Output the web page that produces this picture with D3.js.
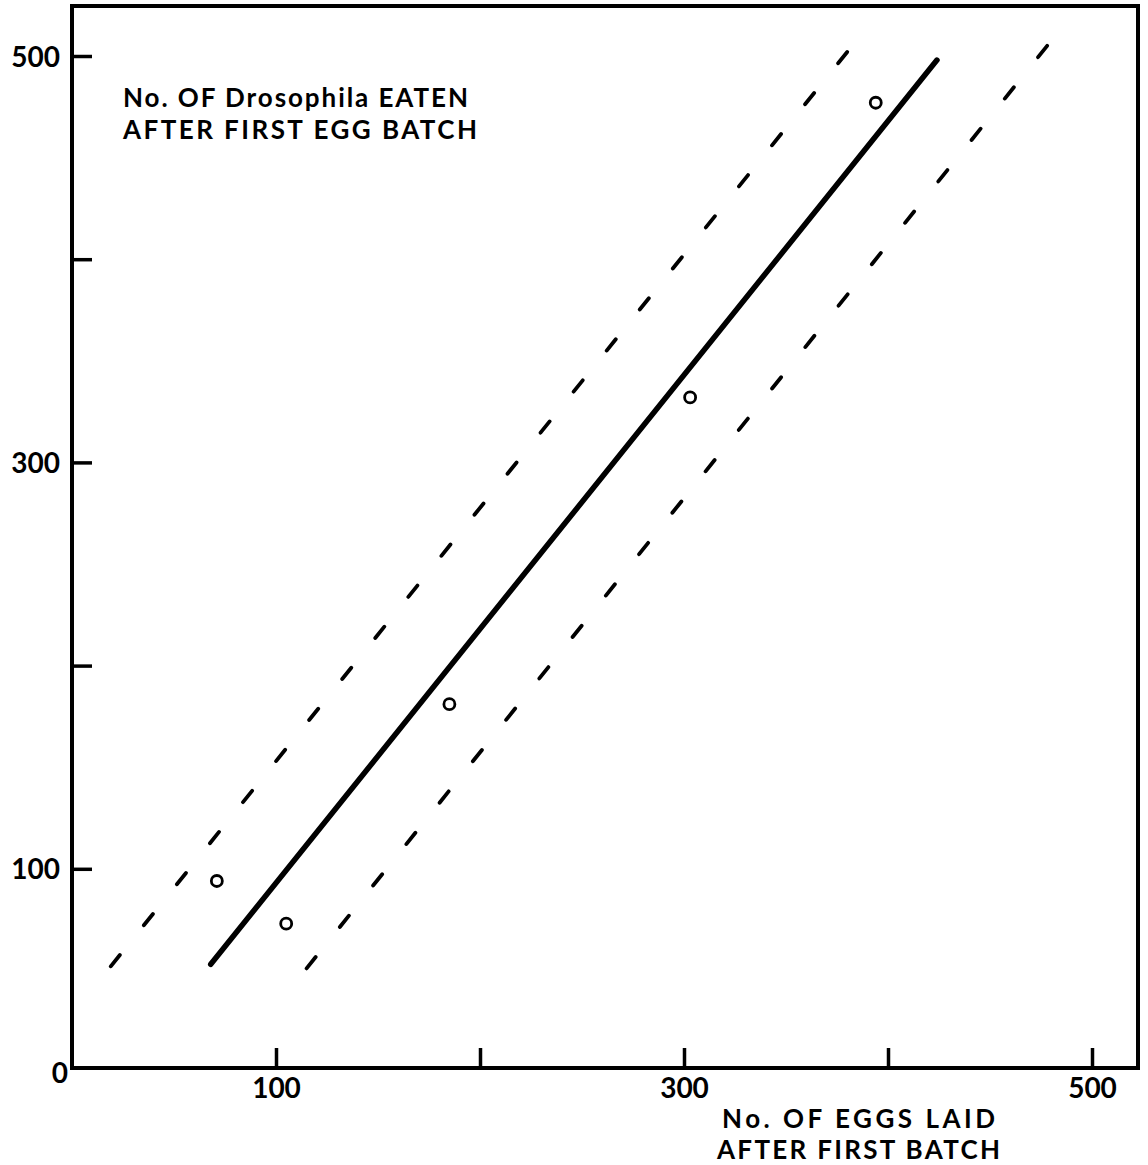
<!DOCTYPE html>
<html>
<head>
<meta charset="utf-8">
<script src="https://cdn.jsdelivr.net/npm/d3@7"></script>
<style>
  html, body { margin: 0; padding: 0; background: #fff; }
  svg { display: block; }
  text { font-family: Lato, "Open Sans", sans-serif; font-weight: 700; fill: #000; }
</style>
</head>
<body>
<svg id="chart" width="1148" height="1165"></svg>
<script>
// ---- data ----
const eggsLaid   = [71, 105, 185, 303, 394];   // x: No. of eggs laid after first batch
const flyEaten   = [94, 73, 181, 332, 477];    // y: No. of Drosophila eaten after first egg batch
const fitLine    = [[68, 53], [424, 498]];     // solid regression line
const upperLimit = [[19, 52], [380, 502]];     // dashed upper limit
const lowerLimit = [[115, 51], [478, 505]];    // dashed lower limit
const xTicks = [100, 200, 300, 400, 500];
const yTicks = [100, 200, 300, 400, 500];
const xTickLabels = [100, 300, 500];
const yTickLabels = [100, 300, 500];
const yTitle = ["No. OF Drosophila EATEN", "AFTER FIRST EGG BATCH"];
const xTitle = ["No. OF  EGGS  LAID", "AFTER  FIRST  BATCH"];

const svg = d3.select("#chart");
const x = d3.scaleLinear().domain([0, 500]).range([72, 1092]);
const y = d3.scaleLinear().domain([0, 500]).range([1072, 56]);

const frame = { left: 72, top: 6, right: 1138, bottom: 1068 };

// frame
svg.append("rect")
  .attr("x", frame.left).attr("y", frame.top)
  .attr("width", frame.right - frame.left).attr("height", frame.bottom - frame.top)
  .attr("fill", "none").attr("stroke", "#000").attr("stroke-width", 4);

// y axis
const yAxis = svg.append("g").attr("transform", `translate(${frame.left},0)`)
  .call(d3.axisLeft(y).tickValues(yTicks).tickSizeInner(-20).tickSizeOuter(0).tickPadding(12)
    .tickFormat(d => yTickLabels.includes(d) ? d : ""));
yAxis.select(".domain").remove();
yAxis.selectAll(".tick line").attr("stroke", "#000").attr("stroke-width", 3.5);
yAxis.selectAll(".tick text").style("font-size", "28px").style("font-family", "Lato, sans-serif")
  .style("font-weight", 700).attr("dy", "0.36em");

// x axis
const xAxis = svg.append("g").attr("transform", `translate(0,${frame.bottom})`)
  .call(d3.axisBottom(x).tickValues(xTicks).tickSizeInner(-20).tickSizeOuter(0).tickPadding(9)
    .tickFormat(d => xTickLabels.includes(d) ? d : ""));
xAxis.select(".domain").remove();
xAxis.selectAll(".tick line").attr("stroke", "#000").attr("stroke-width", 3.5);
xAxis.selectAll(".tick text").style("font-size", "28px").style("font-family", "Lato, sans-serif")
  .style("font-weight", 700).attr("dy", "0.74em");

// origin label
svg.append("text").attr("x", 68).attr("y", 1083).attr("text-anchor", "end")
  .style("font-size", "28px").text("0");

const line = d3.line().x(d => x(d[0])).y(d => y(d[1]));

// solid fit line
svg.append("path").attr("d", line(fitLine))
  .attr("fill", "none").attr("stroke", "#000").attr("stroke-width", 5.5).attr("stroke-linecap", "round");

// dashed limits: dash pattern fitted so each line starts and ends with a dash
const dashLen = 14.5, basePeriod = 53;
[upperLimit, lowerLimit].forEach(l => {
  const p = svg.append("path").attr("d", line(l))
    .attr("fill", "none").attr("stroke", "#000").attr("stroke-width", 3.8)
    .attr("stroke-linecap", "round");
  const L = p.node().getTotalLength();
  const n = Math.round((L - dashLen) / basePeriod);
  const period = (L - dashLen) / n;
  p.attr("stroke-dasharray", `${dashLen},${period - dashLen}`);
});

// points
svg.selectAll("circle.pt").data(eggsLaid.map((v, i) => [v, flyEaten[i]]))
  .enter().append("circle").attr("class", "pt")
  .attr("cx", d => x(d[0])).attr("cy", d => y(d[1])).attr("r", 5.5)
  .attr("fill", "#fff").attr("stroke", "#000").attr("stroke-width", 2.8);

// titles
const yT = svg.append("text").style("font-size", "26px");
yT.append("tspan").attr("x", 123).attr("y", 107).attr("textLength", 345).attr("lengthAdjust", "spacing").text(yTitle[0]);
yT.append("tspan").attr("x", 123).attr("y", 138.5).attr("textLength", 354).attr("lengthAdjust", "spacing").text(yTitle[1]);

const xT = svg.append("text").style("font-size", "26px");
xT.append("tspan").attr("x", 722).attr("y", 1127.5).attr("textLength", 273).attr("lengthAdjust", "spacing").text(xTitle[0]);
xT.append("tspan").attr("x", 717).attr("y", 1159).attr("textLength", 283).attr("lengthAdjust", "spacing").text(xTitle[1]);
</script>
</body>
</html>
